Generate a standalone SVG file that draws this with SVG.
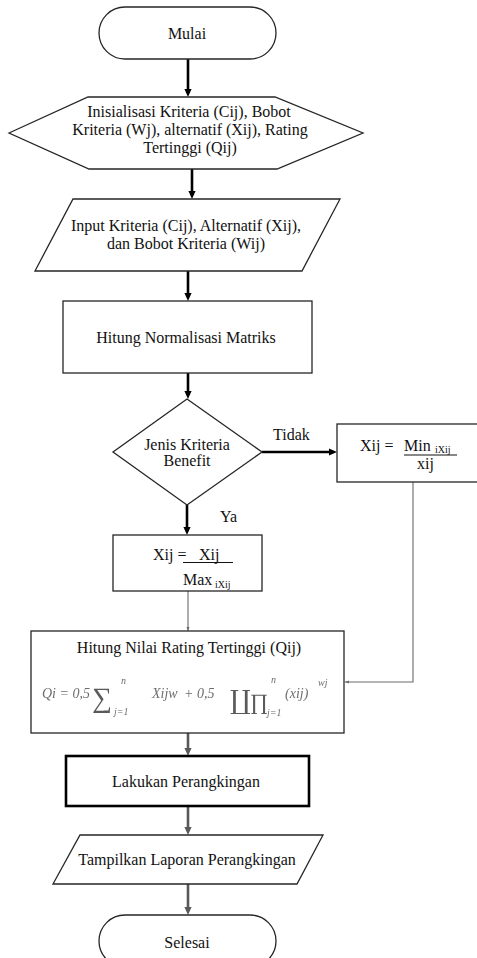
<svg xmlns="http://www.w3.org/2000/svg" width="477" height="958" viewBox="0 0 477 958" font-family="'Liberation Serif', 'DejaVu Serif', serif">
  <style>
    .shape { fill: #ffffff; stroke: #262626; stroke-width: 1.3; }
    .bold { fill: #ffffff; stroke: #000000; stroke-width: 2.6; }
    .lbl { font-family: 'Liberation Serif', 'DejaVu Serif', serif; font-size: 16px; fill: #111111; text-anchor: middle; }
    .lft { font-family: 'Liberation Serif', 'DejaVu Serif', serif; font-size: 16px; fill: #111111; }
    .sub { font-family: 'Liberation Serif', 'DejaVu Serif', serif; font-size: 10px; fill: #111111; }
    .math { font-family: 'Liberation Serif', 'DejaVu Serif', serif; font-style: italic; fill: #6e6e6e; }
    .op { font-family: 'Liberation Serif', 'DejaVu Serif', serif; fill: #5a5a5a; }
    .flow { fill: none; stroke: #000000; stroke-width: 2.6; marker-end: url(#headBlack); }
    .flowGray { fill: none; stroke: #595959; stroke-width: 2.6; marker-end: url(#headGray); }
    .thin { fill: none; stroke: #6a6a6a; stroke-width: 1.1; marker-end: url(#headThin); }
  </style>
  <defs>
    <marker id="headBlack" markerUnits="userSpaceOnUse" markerWidth="8" markerHeight="8" viewBox="0 0 8 8" refX="4" refY="4" orient="auto">
      <path d="M0,0.4 L8,4 L0,7.6 z" fill="#000000"/>
    </marker>
    <marker id="headGray" markerUnits="userSpaceOnUse" markerWidth="8" markerHeight="8" viewBox="0 0 8 8" refX="4" refY="4" orient="auto">
      <path d="M0,0.4 L8,4 L0,7.6 z" fill="#595959"/>
    </marker>
    <marker id="headThin" markerUnits="userSpaceOnUse" markerWidth="4" markerHeight="4" viewBox="0 0 4 4" refX="4" refY="2" orient="auto">
      <path d="M0,0.5 L4,2 L0,3.5 z" fill="#6a6a6a"/>
    </marker>
    <filter id="soft" x="-5%" y="-20%" width="110%" height="140%">
      <feGaussianBlur stdDeviation="0.35"/>
    </filter>
  </defs>

  <!-- connectors -->
  <g id="connectors">
    <path class="flow" d="M188,59 V93"/>
    <path class="flow" d="M192,169 V195"/>
    <path class="flow" d="M188,271 V297"/>
    <path class="flow" d="M188,373 V395"/>
    <path class="flow" d="M187,505 V531"/>
    <path class="flow" d="M262,452 H333"/>
    <path class="thin" d="M188,591 V631"/>
    <path class="thin" d="M413,482 V682 H345"/>
    <path class="flowGray" d="M188,733 V752"/>
    <path class="flowGray" d="M188,806 V831"/>
    <path class="flowGray" d="M188,884 V911"/>
    <text class="lft" x="273" y="440">Tidak</text>
    <text class="lft" x="220" y="522">Ya</text>
  </g>

  <!-- start terminal -->
  <g id="mulai">
    <rect class="shape" x="99" y="7" width="177" height="52" rx="26" ry="26"/>
    <text class="lbl" x="187" y="39">Mulai</text>
  </g>

  <!-- initialisation (preparation hexagon) -->
  <g id="inisialisasi">
    <polygon class="shape" points="9,133 88,97 275,97 363,133 277,169 89,169"/>
    <text class="lbl" x="189" y="117">Inisialisasi Kriteria (Cij), Bobot</text>
    <text class="lbl" x="190" y="135">Kriteria (Wj), alternatif (Xij), Rating</text>
    <text class="lbl" x="190" y="153">Tertinggi (Qij)</text>
  </g>

  <!-- input data -->
  <g id="input">
    <polygon class="shape" points="73,199 340,199 302,271 35,271"/>
    <text class="lbl" x="186" y="231">Input Kriteria (Cij), Alternatif (Xij),</text>
    <text class="lbl" x="186" y="249">dan Bobot Kriteria (Wij)</text>
  </g>

  <!-- normalisation -->
  <g id="normalisasi">
    <rect class="shape" x="63" y="301" width="249" height="72"/>
    <text class="lbl" x="186" y="343">Hitung Normalisasi Matriks</text>
  </g>

  <!-- decision -->
  <g id="keputusan">
    <polygon class="shape" points="187,399 262,452 187,505 113,452"/>
    <text class="lbl" x="187" y="450">Jenis Kriteria</text>
    <text class="lbl" x="187" y="466">Benefit</text>
  </g>

  <!-- cost normalisation -->
  <g id="cost">
    <rect class="shape" x="337" y="424" width="144" height="58"/>
    <text class="lft" x="360" y="451">Xij =</text>
    <text class="lft" x="404" y="451">Min</text>
    <text class="sub" x="435" y="453">iXij</text>
    <line x1="404" y1="455" x2="457" y2="455" stroke="#111111" stroke-width="1"/>
    <text class="lft" x="417" y="469">xij</text>
  </g>

  <!-- benefit normalisation -->
  <g id="benefit">
    <rect class="shape" x="113" y="535" width="149" height="56"/>
    <text class="lft" x="153" y="560">Xij =</text>
    <text class="lft" x="199" y="560">Xij</text>
    <line x1="183" y1="562.5" x2="233" y2="562.5" stroke="#111111" stroke-width="1"/>
    <text class="lft" x="183" y="585">Max</text>
    <text class="sub" x="215" y="588">iXij</text>
  </g>

  <!-- highest rating, with the rating formula -->
  <g id="rating">
    <rect class="shape" x="31" y="631" width="313" height="102" stroke-width="1.6"/>
    <text class="lbl" x="189" y="653">Hitung Nilai Rating Tertinggi (Qij)</text>
    <g filter="url(#soft)">
      <text class="math" x="42" y="698" font-size="14">Qi = 0,5</text>
      <text class="op" x="92" y="707" font-size="28">∑</text>
      <text class="math" x="121" y="684" font-size="10">n</text>
      <text class="math" x="114" y="715" font-size="10">j=1</text>
      <text class="math" x="152" y="698" font-size="14">Xijw</text>
      <text class="math" x="184" y="698" font-size="14">+ 0,5</text>
      <text class="op" x="230" y="709" font-size="26">∐</text>
      <text class="op" x="250" y="709" font-size="22">∏</text>
      <text class="math" x="271" y="683" font-size="10">n</text>
      <text class="math" x="267" y="716" font-size="10">j=1</text>
      <text class="math" x="285" y="698" font-size="14">(xij)</text>
      <text class="math" x="318" y="686" font-size="10">wj</text>
    </g>
  </g>

  <!-- ranking -->
  <g id="perangkingan">
    <rect class="bold" x="66" y="756" width="243" height="50"/>
    <text class="lbl" x="186" y="787">Lakukan Perangkingan</text>
  </g>

  <!-- report output -->
  <g id="laporan">
    <polygon class="shape" points="80,835 323,835 297,884 53,884"/>
    <text class="lbl" x="187" y="865">Tampilkan Laporan Perangkingan</text>
  </g>

  <!-- end terminal -->
  <g id="selesai">
    <rect class="shape" x="99" y="915" width="177" height="52" rx="26" ry="26"/>
    <text class="lbl" x="187" y="948">Selesai</text>
  </g>
</svg>
